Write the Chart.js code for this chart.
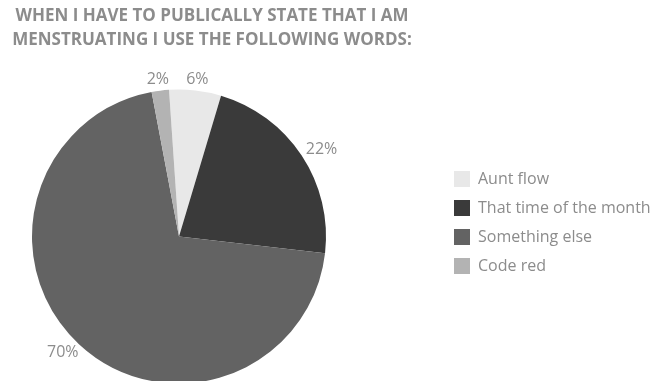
<!DOCTYPE html>
<html>
<head>
<meta charset="utf-8">
<script src="https://cdn.jsdelivr.net/npm/chart.js@4.4.1/dist/chart.umd.min.js"></script>
<style>
  html, body { margin: 0; padding: 0; background: #fff; }
  #wrap { width: 656px; height: 381px; }
</style>
</head>
<body>
<div id="wrap"><canvas id="myChart" width="656" height="381"></canvas></div>
<script>
var titleLines = ['WHEN I HAVE TO PUBLICALLY STATE THAT I AM', 'MENSTRUATING I USE THE FOLLOWING WORDS:'];
var categories = ['Aunt flow', 'That time of the month', 'Something else', 'Code red'];
var shares = [5.7, 22.2, 70.2, 1.9];
var sliceColors = ['#e8e8e8', '#3a3a3a', '#636363', '#b3b3b3'];

var grey = '#8c8c8c';
var fontFamily = '"Open Sans", sans-serif';

// two line title, centred over the pie like the original
var titlePlugin = {
  id: 'titleLines',
  afterDraw: function (chart) {
    var ctx = chart.ctx;
    ctx.save();
    ctx.font = 'bold 17px ' + fontFamily;
    ctx.fillStyle = grey;
    ctx.textAlign = 'center';
    ctx.textBaseline = 'alphabetic';
    titleLines.forEach(function (t, i) {
      ctx.fillText(t, 212, 21 + i * 24.3);
    });
    ctx.restore();
  }
};

// the pie sits left of centre in the space beside the legend
var shiftPlugin = {
  id: 'pieShift',
  afterLayout: function (chart) {
    var a = chart.chartArea;
    a.left -= 83;
    a.width = a.right - a.left;
  }
};

// percentage labels just outside each slice
var labelPlugin = {
  id: 'outsideLabels',
  afterDatasetsDraw: function (chart) {
    var ctx = chart.ctx;
    var meta = chart.getDatasetMeta(0);
    ctx.save();
    ctx.font = '16px ' + fontFamily;
    ctx.fillStyle = grey;
    ctx.textAlign = 'center';
    ctx.textBaseline = 'middle';
    meta.data.forEach(function (arc, i) {
      var p = arc.getProps(['x', 'y', 'startAngle', 'endAngle', 'outerRadius'], true);
      var mid = (p.startAngle + p.endAngle) / 2;
      var dx = Math.cos(mid), dy = Math.sin(mid);
      var txt = Math.round(shares[i]) + '%';
      var hw = ctx.measureText(txt).width / 2;
      var r = p.outerRadius + 8;
      ctx.fillText(txt, p.x + dx * (r + hw), p.y + dy * (r + 3));
    });
    ctx.restore();
  }
};

var ctx = document.getElementById('myChart').getContext('2d');
var chart = new Chart(ctx, {
  type: 'pie',
  data: {
    labels: categories,
    datasets: [{
      data: shares,
      backgroundColor: sliceColors,
      borderWidth: 0,
      radius: 147,
      clip: false
    }]
  },
  options: {
    responsive: false,
    animation: false,
    events: [],
    rotation: -3.9,
    layout: { padding: { left: 0, right: 0, top: 158, bottom: 66 } },
    plugins: {
      title: { display: false },
      tooltip: { enabled: false },
      legend: {
        position: 'right',
        align: 'start',
        maxWidth: 215,
        labels: {
          boxWidth: 16,
          boxHeight: 16,
          padding: 13,
          color: grey,
          font: { family: 'Open Sans', size: 16 }
        }
      }
    }
  },
  plugins: [titlePlugin, shiftPlugin, labelPlugin]
});
</script>
</body>
</html>
